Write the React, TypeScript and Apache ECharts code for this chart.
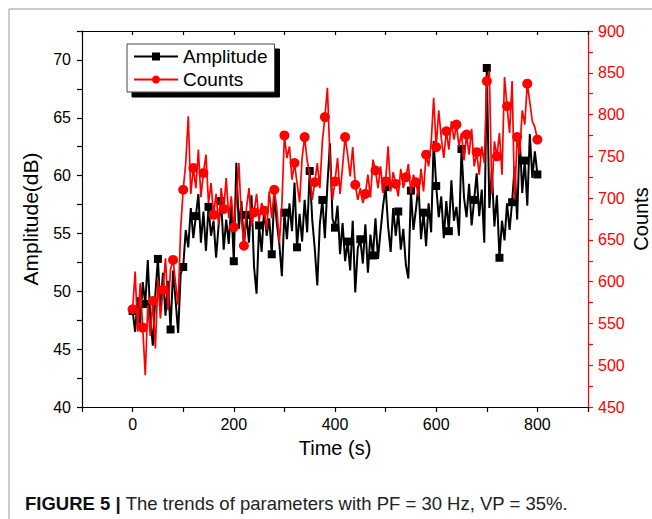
import React, { useEffect, useRef } from "react";
import * as echarts from "echarts";

const TIME_STEP = 5; // seconds between samples
const AMP_MARK_EVERY = 5;
const CNT_MARK_EVERY = 4;

const amplitude = [
  48.3, 46.5, 49.5, 47.2, 50.8, 48.9, 52.7, 47.6, 45.3, 49.8,
  52.8, 48.4, 51.6, 47.9, 50.9, 46.7, 51.8, 49.2, 46.4, 51.5,
  52.1, 55.3, 53.8, 57.2, 54.6, 56.5, 58.4, 54.2, 56.9, 53.5,
  57.3, 54.8, 56.1, 52.9, 55.7, 57.8, 53.6, 56.2, 54.1, 57.5,
  52.6, 61.1, 55.4, 57.8, 53.9, 56.6, 54.2, 58.3, 52.1, 49.8,
  55.7, 53.4, 57.1, 54.8, 56.3, 53.2, 58.4, 55.9, 54.1, 51.3,
  56.8, 54.5, 57.6, 55.2, 59.4, 53.8, 56.7, 54.3, 57.9, 55.1,
  60.4, 56.2, 53.7, 50.5, 55.8, 57.9, 54.6, 59.2, 62.8, 56.3,
  55.5, 57.4, 53.2, 55.9, 52.6, 54.3, 51.8, 56.1, 49.9, 53.7,
  54.5, 52.4, 55.8, 51.6, 54.9, 53.1, 56.3, 52.8, 55.2, 57.4,
  59.0, 55.6, 53.4, 57.2, 54.8, 56.9, 53.6, 55.4, 52.3, 51.1,
  58.7, 55.3, 57.1, 59.2, 54.5, 56.8, 53.9, 57.6, 55.1, 63.0,
  59.1, 56.4, 58.2, 54.6, 57.8, 55.2, 59.6, 56.1, 57.3, 54.8,
  62.3, 58.1, 56.4, 59.3, 55.7, 57.9, 60.2, 56.5, 58.8, 54.2,
  69.3, 57.2, 60.4, 55.6, 58.3, 52.9, 56.1, 54.4, 57.6, 55.3,
  57.7, 60.8, 56.2, 63.4, 58.5, 61.3, 57.4, 63.6, 59.8, 62.1,
  60.1,
];

const counts = [
  567,
  612, 540, 598, 545, 488, 572, 535, 577, 520, 603, 556,
  590, 628, 566, 615, 626, 598, 572, 664, 710, 742, 798, 705,
  736, 712, 758, 701, 730, 752, 694, 718, 680, 705, 668, 712,
  687, 724, 676, 702, 665, 698, 742, 676, 643, 688, 712, 667,
  683, 705, 672, 694, 685, 662, 708, 676, 710, 688, 646, 692,
  775, 748, 762, 722, 742, 718, 695, 748, 773, 745, 728, 698,
  719, 742, 712, 768, 797, 832, 748, 698, 720, 748, 705, 738,
  773, 752, 726, 761, 716, 698, 712, 694, 705, 728, 701, 746,
  733, 712, 738, 706, 720, 762, 708, 731, 717, 702, 735, 712,
  725, 741, 706, 728, 719, 702, 735, 708, 752, 738, 766, 820,
  761, 805, 772, 748, 780, 758, 792, 770, 788, 762, 778, 745,
  776, 752, 783, 738, 755, 728, 762, 742, 840, 852, 705, 768,
  750, 778, 728, 845, 810, 778, 840, 698, 773, 752, 805, 788,
  837, 815, 792, 785, 770,
];

const xTickLabels = [0, 200, 400, 600, 800];
const ampTickLabels = [40, 45, 50, 55, 60, 65, 70];
const cntTickLabels = [450, 500, 550, 600, 650, 700, 750, 800, 850, 900];

const FONT = '"Liberation Sans", Arial, Helvetica, sans-serif';
const RED = "#ff0000";
const W = 652;
const H = 519;

function toData(values: number[], every: number) {
  return values.map((v, i) =>
    i % every === 0
      ? { value: [i * TIME_STEP, v] }
      : { value: [i * TIME_STEP, v], symbol: "none" }
  );
}

export default function App() {
  const ref = useRef<HTMLDivElement>(null);
  useEffect(() => {
    if (!ref.current) return;
    document.body.style.margin = "0";
    document.body.style.overflow = "hidden";
    const chart = echarts.init(ref.current, null, { renderer: "svg", width: W, height: H });
    const option: any = {
      animation: false,
      backgroundColor: "#fff",
      textStyle: { fontFamily: FONT },
      grid: { left: 82, right: 64, top: 31, bottom: 112, containLabel: false, outerBoundsMode: "none" },
      legend: {
        left: 127,
        top: 44,
        orient: "vertical",
        backgroundColor: "#fff",
        borderColor: "#444",
        borderWidth: 1,
        borderRadius: 0,
        shadowColor: "#000",
        shadowBlur: 0,
        shadowOffsetX: 5,
        shadowOffsetY: 5,
        padding: [3, 7, 3, 6],
        itemWidth: 44,
        itemHeight: 10,
        itemGap: 4,
        textStyle: { fontSize: 19, color: "#000", fontFamily: FONT },
        data: ["Amplitude", "Counts"],
      },
      xAxis: [
        {
          type: "value",
          position: "bottom",
          min: -100,
          max: 900,
          interval: 100,
          name: "Time (s)",
          nameLocation: "middle",
          nameGap: 31,
          nameTextStyle: { fontSize: 20, color: "#000", fontFamily: FONT },
          axisLine: { show: true, onZero: false, lineStyle: { color: "#000", width: 1.2 } },
          axisTick: { show: true, inside: false, length: 5, lineStyle: { color: "#000", width: 1.2 } },
          axisLabel: {
            fontSize: 16,
            color: "#000",
            margin: 9,
            fontFamily: FONT,
            formatter: (v: number) => (xTickLabels.includes(v) ? String(v) : ""),
          },
          splitLine: { show: false },
        },
        {
          type: "value",
          position: "top",
          min: -100,
          max: 900,
          interval: 100,
          axisLine: { show: true, onZero: false, lineStyle: { color: "#000", width: 1.2 } },
          axisTick: { show: true, inside: true, length: 4, lineStyle: { color: "#000", width: 1.2 } },
          axisLabel: { show: false },
          splitLine: { show: false },
        },
      ],
      yAxis: [
        {
          type: "value",
          position: "left",
          min: 40,
          max: 72.5,
          interval: 2.5,
          name: "Amplitude(dB)",
          nameLocation: "middle",
          nameRotate: 90,
          nameGap: 41,
          nameTextStyle: { fontSize: 21, color: "#000", fontFamily: FONT },
          axisLine: { show: true, onZero: false, lineStyle: { color: "#000", width: 1.2 } },
          axisTick: { show: true, inside: false, length: 5, lineStyle: { color: "#000", width: 1.2 } },
          axisLabel: {
            fontSize: 16,
            color: "#000",
            margin: 11,
            fontFamily: FONT,
            formatter: (v: number) => (ampTickLabels.includes(v) ? String(v) : ""),
          },
          splitLine: { show: false },
        },
        {
          type: "value",
          position: "right",
          min: 450,
          max: 900,
          interval: 25,
          axisLine: { show: true, onZero: false, lineStyle: { color: RED, width: 1.2 } },
          axisTick: { show: true, inside: false, length: 5, lineStyle: { color: RED, width: 1.2 } },
          axisLabel: {
            fontSize: 16,
            color: RED,
            margin: 10,
            fontFamily: FONT,
            formatter: (v: number) => (cntTickLabels.includes(v) ? String(v) : ""),
          },
          splitLine: { show: false },
        },
      ],
      series: [
        {
          name: "Amplitude",
          type: "line",
          xAxisIndex: 0,
          yAxisIndex: 0,
          data: toData(amplitude, AMP_MARK_EVERY),
          symbol: "rect",
          symbolSize: 8,
          showAllSymbol: true,
          lineStyle: { color: "#000", width: 2 },
          itemStyle: { color: "#000" },
          z: 2,
        },
        {
          name: "Counts",
          type: "line",
          xAxisIndex: 0,
          yAxisIndex: 1,
          data: toData(counts, CNT_MARK_EVERY),
          symbol: "circle",
          symbolSize: 10,
          showAllSymbol: true,
          lineStyle: { color: RED, width: 1.7 },
          itemStyle: { color: RED },
          z: 3,
        },
      ],
      graphic: [
        { type: "line", shape: { x1: 9, y1: 9, x2: 652, y2: 9 }, style: { stroke: "#999", lineWidth: 1 } },
        { type: "line", shape: { x1: 9, y1: 9, x2: 9, y2: 519 }, style: { stroke: "#999", lineWidth: 1 } },
        {
          type: "text",
          x: 641,
          y: 219,
          rotation: Math.PI / 2,
          style: {
            text: "Counts",
            fontFamily: FONT,
            fontSize: 20,
            fill: "#000",
            align: "center",
            verticalAlign: "middle",
          },
        },
        {
          type: "text",
          left: 25,
          top: 494,
          style: {
            text: "{b|FIGURE 5 |} {n|The trends of parameters with PF = 30 Hz, VP = 35%.}",
            fontFamily: FONT,
            fontSize: 18.5,
            rich: {
              b: { fontWeight: "bold", fontSize: 18.5, fill: "#111", fontFamily: FONT },
              n: { fontSize: 18.5, fill: "#222", fontFamily: FONT },
            },
          },
        },
      ],
    };
    chart.setOption(option);
    return () => chart.dispose();
  }, []);
  return (
    <div
      ref={ref}
      style={{ position: "fixed", left: 0, top: 0, width: W, height: H }}
    />
  );
}
